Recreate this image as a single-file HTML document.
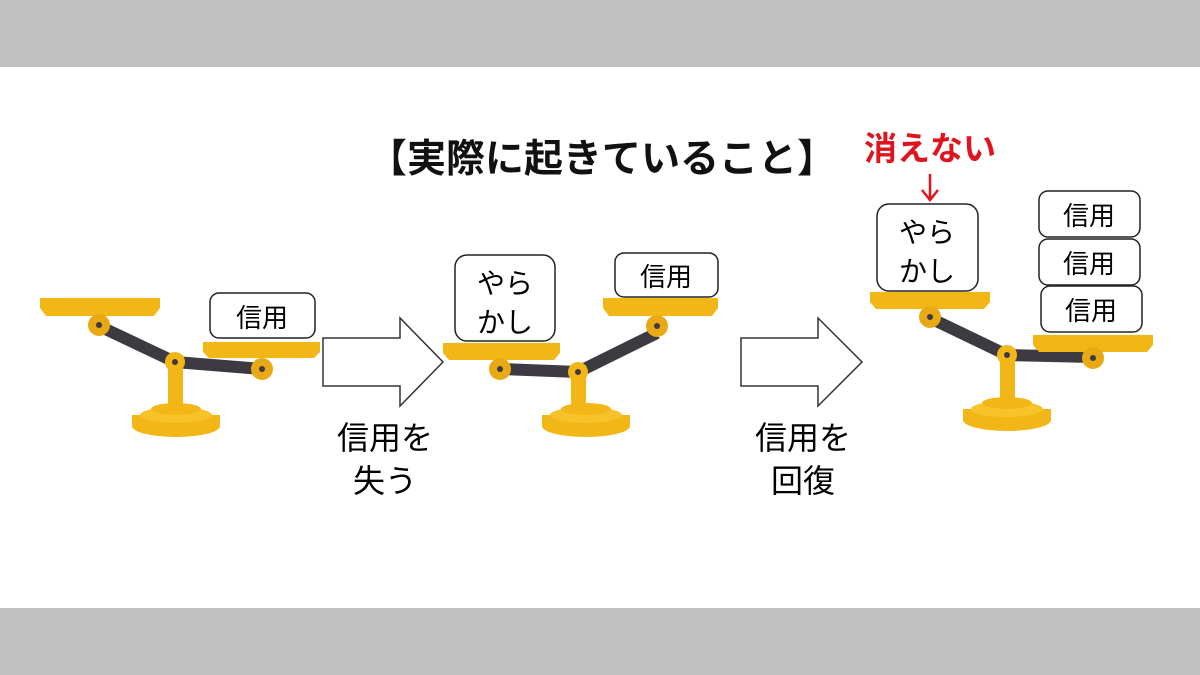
<!DOCTYPE html>
<html><head><meta charset="utf-8"><style>
html,body{margin:0;padding:0;background:#fff}
svg{display:block}
text{font-family:"Liberation Sans","Noto Sans CJK JP",sans-serif}
</style></head><body>
<svg width="1200" height="675" viewBox="0 0 1200 675" xmlns="http://www.w3.org/2000/svg">
<rect x="0" y="0" width="1200" height="67" fill="#c1c1c1"/>
<rect x="0" y="608" width="1200" height="67" fill="#c1c1c1"/>
<text x="602" y="172" font-size="39" font-weight="bold" text-anchor="middle" fill="#111">【実際に起きていること】</text>
<text x="930" y="160" font-size="33" font-weight="bold" text-anchor="middle" fill="#e0141e">消えない</text>
<line x1="930" y1="174" x2="930" y2="198" stroke="#e0141e" stroke-width="2.5"/>
<polyline points="922,190 930,200 938,190" fill="none" stroke="#e0141e" stroke-width="2.5"/>

<!-- Scale 1 -->
<g>
<polyline points="99,326 175,362 262,369" fill="none" stroke="#3d3a42" stroke-width="12" stroke-linejoin="round"/>
<rect x="168" y="355" width="15" height="55" fill="#f2b717"/>
<ellipse cx="176" cy="426" rx="44" ry="11" fill="#f2b717"/>
<rect x="132" y="415" width="88" height="11" fill="#f2b717"/>
<ellipse cx="176" cy="415" rx="36" ry="8" fill="#f7c22a"/>
<ellipse cx="176" cy="409" rx="25" ry="6" fill="#f2b717"/>
<circle cx="175" cy="362" r="10" fill="#f2b717"/><circle cx="175" cy="362" r="3" fill="#3d3a42"/>
<path d="M40,298 H160 V308 L154,316 H46 L40,308Z" fill="#f2b717"/>
<circle cx="99" cy="325" r="11" fill="#e8a915"/><circle cx="99" cy="325" r="3" fill="#3d3a42"/>
<path d="M203,342 H320 V352 L314,358 H209 L203,352Z" fill="#f2b717"/>
<circle cx="262" cy="369" r="11" fill="#e8a915"/><circle cx="262" cy="369" r="3" fill="#3d3a42"/>
<rect x="210" y="293" width="105" height="45" rx="9" fill="#fff" stroke="#222" stroke-width="1.5"/>
<text x="262" y="327" font-size="26" text-anchor="middle">信用</text>
</g>

<!-- Arrow 1 -->
<path d="M323,338 H400 V318 L443,362 L400,406 V386 H323Z" fill="#fff" stroke="#333" stroke-width="1.5"/>
<text x="385" y="449" font-size="32" text-anchor="middle">信用を</text>
<text x="385" y="492" font-size="32" text-anchor="middle">失う</text>

<!-- Scale 2 -->
<g>
<polyline points="500,369 578,372 657,333" fill="none" stroke="#3d3a42" stroke-width="12" stroke-linejoin="round"/>
<rect x="571" y="365" width="15" height="45" fill="#f2b717"/>
<ellipse cx="586" cy="426" rx="44" ry="11" fill="#f2b717"/>
<rect x="542" y="415" width="88" height="11" fill="#f2b717"/>
<ellipse cx="586" cy="415" rx="36" ry="8" fill="#f7c22a"/>
<ellipse cx="586" cy="409" rx="25" ry="6" fill="#f2b717"/>
<circle cx="578" cy="372" r="10" fill="#f2b717"/><circle cx="578" cy="372" r="3" fill="#3d3a42"/>
<path d="M443,343 H560 V353 L554,360 H449 L443,353Z" fill="#f2b717"/>
<circle cx="500" cy="369" r="11" fill="#e8a915"/><circle cx="500" cy="369" r="3" fill="#3d3a42"/>
<path d="M603,298 H718 V308 L712,316 H609 L603,308Z" fill="#f2b717"/>
<circle cx="657" cy="326" r="11" fill="#e8a915"/><circle cx="657" cy="326" r="3" fill="#3d3a42"/>
<rect x="455" y="255" width="100" height="86" rx="12" fill="#fff" stroke="#222" stroke-width="1.5"/>
<text x="505" y="293" font-size="28" text-anchor="middle">やら</text>
<text x="505" y="332" font-size="28" text-anchor="middle">かし</text>
<rect x="615" y="253" width="103" height="44" rx="9" fill="#fff" stroke="#222" stroke-width="1.5"/>
<text x="666" y="286" font-size="26" text-anchor="middle">信用</text>
</g>

<!-- Arrow 2 -->
<path d="M741,338 H818 V318 L862,362 L818,406 V386 H741Z" fill="#fff" stroke="#333" stroke-width="1.5"/>
<text x="803" y="449" font-size="32" text-anchor="middle">信用を</text>
<text x="803" y="492" font-size="32" text-anchor="middle">回復</text>

<!-- Scale 3 -->
<g>
<polyline points="930,318 1007,355 1093,357" fill="none" stroke="#3d3a42" stroke-width="12" stroke-linejoin="round"/>
<rect x="1000" y="350" width="15" height="52" fill="#f2b717"/>
<ellipse cx="1007" cy="420" rx="44" ry="11" fill="#f2b717"/>
<rect x="963" y="409" width="88" height="11" fill="#f2b717"/>
<ellipse cx="1007" cy="409" rx="36" ry="8" fill="#f7c22a"/>
<ellipse cx="1007" cy="403" rx="25" ry="6" fill="#f2b717"/>
<circle cx="1007" cy="355" r="10" fill="#f2b717"/><circle cx="1007" cy="355" r="3" fill="#3d3a42"/>
<path d="M870,292 H990 V302 L984,309 H876 L870,302Z" fill="#f2b717"/>
<circle cx="930" cy="317" r="11" fill="#e8a915"/><circle cx="930" cy="317" r="3" fill="#3d3a42"/>
<path d="M1033,335 H1153 V345 L1147,352 H1039 L1033,345Z" fill="#f2b717"/>
<circle cx="1093" cy="358" r="11" fill="#e8a915"/><circle cx="1093" cy="358" r="3" fill="#3d3a42"/>
<rect x="877" y="204" width="101" height="87" rx="12" fill="#fff" stroke="#222" stroke-width="1.5"/>
<text x="927" y="242" font-size="28" text-anchor="middle">やら</text>
<text x="927" y="281" font-size="28" text-anchor="middle">かし</text>
<rect x="1039" y="191" width="101" height="46" rx="9" fill="#fff" stroke="#222" stroke-width="1.5"/>
<text x="1089" y="225" font-size="26" text-anchor="middle">信用</text>
<rect x="1039" y="239" width="101" height="46" rx="9" fill="#fff" stroke="#222" stroke-width="1.5"/>
<text x="1089" y="273" font-size="26" text-anchor="middle">信用</text>
<rect x="1041" y="286" width="101" height="46" rx="9" fill="#fff" stroke="#222" stroke-width="1.5"/>
<text x="1091" y="320" font-size="26" text-anchor="middle">信用</text>
</g>
</svg>
</body></html>
